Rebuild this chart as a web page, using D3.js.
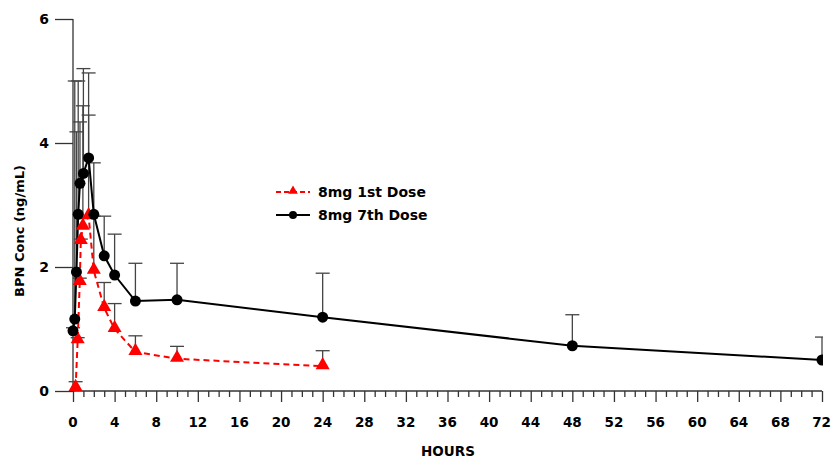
<!DOCTYPE html>
<html>
<head>
<meta charset="utf-8">
<script src="https://cdn.jsdelivr.net/npm/d3@7/dist/d3.min.js"></script>
<style>
  body { margin: 0; background: #fff; overflow: hidden; }
  text { font-family: "DejaVu Sans", Verdana, sans-serif; font-weight: bold; }
</style>
</head>
<body>
<svg id="chart" width="833" height="459"></svg>
<script>
// hours and mean BPN concentration (ng/mL), upper error bar end
const hours7th = [0, 0.17, 0.33, 0.5, 0.67, 1, 1.5, 2, 3, 4, 6, 10, 24, 48, 72];
const conc7th  = [0.97, 1.16, 1.92, 2.85, 3.35, 3.51, 3.76, 2.85, 2.18, 1.87, 1.45, 1.47, 1.19, 0.73, 0.50];
const upper7th = [1.02, 5.0, 4.18, 5.0, 4.34, 5.2, 5.13, 3.68, 2.82, 2.53, 2.06, 2.06, 1.9, 1.23, 0.87];

const hours1st = [0.25, 0.45, 0.65, 0.75, 0.95, 1.5, 2, 3, 4, 6, 10, 24];
const conc1st  = [0.05, 0.82, 1.76, 2.42, 2.65, 2.82, 1.94, 1.34, 1.0, 0.63, 0.52, 0.40];
const upper1st = [0.15, 0.86, 1.82, 2.45, 4.6, 4.45, 2.82, 1.75, 1.41, 0.89, 0.72, 0.65];

const xTicks = d3.range(0, 73, 4);
const yTicks = [0, 2, 4, 6];
const legendLabels = ["8mg 1st Dose", "8mg 7th Dose"];

const COLORS = {
    first: '#ff0000',
    seventh: '#000000',
    errBar: '#444444',
    axis: '#333333'
};

const svg = d3.select('#chart');
const x = d3.scaleLinear().domain([0, 72]).range([73, 822]);
const y = d3.scaleLinear().domain([0, 6]).range([391, 19]);

svg.append('defs').append('clipPath').attr('id', 'plotClip')
    .append('rect').attr('x', 0).attr('y', 0).attr('width', 823).attr('height', 459);

// axes
const xAxis = svg.append('g').attr('transform', 'translate(0,391)');
xAxis.call(d3.axisBottom(x).tickValues(d3.range(0, 73, 1)).tickSize(6).tickFormat(''));
xAxis.call(g => g.selectAll('.tick').filter(d => d % 4 === 0).select('line').attr('y2', 11));
xAxis.selectAll('.tick text').remove();
xAxis.selectAll('line, path').attr('stroke', COLORS.axis).attr('stroke-width', 1.3);
xAxis.select('.domain').attr('d', 'M73,0H822');

// last label sits against the right edge, as in the original
svg.append('g').selectAll('text').data(xTicks).enter().append('text')
    .attr('x', d => d === 72 ? 831 : x(d)).attr('y', 427)
    .attr('text-anchor', d => d === 72 ? 'end' : 'middle')
    .attr('font-size', 13.5).attr('fill', '#000')
    .text(d => d);

const yAxis = svg.append('g').attr('transform', 'translate(73,0)');
yAxis.call(d3.axisLeft(y).tickValues(yTicks).tickSize(18).tickPadding(6).tickFormat(d3.format('d')));
yAxis.selectAll('line, path').attr('stroke', COLORS.axis).attr('stroke-width', 1.3);
yAxis.select('.domain').attr('d', 'M0,19V391');
yAxis.selectAll('text').attr('font-size', 14).attr('fill', '#000').attr('font-family', '"DejaVu Sans", Verdana, sans-serif');

svg.append('text').attr('x', 448).attr('y', 456)
    .attr('text-anchor', 'middle').attr('font-size', 13.5).text('HOURS');
svg.append('text').attr('transform', 'translate(24,231) rotate(-90)')
    .attr('text-anchor', 'middle').attr('font-size', 13).text('BPN Conc (ng/mL)');

const plot = svg.append('g').attr('clip-path', 'url(#plotClip)');

function drawErrors(hours, conc, upper) {
    const g = plot.append('g').attr('stroke', COLORS.errBar).attr('stroke-width', 1.3);
    hours.forEach((h, i) => {
        g.append('line').attr('x1', x(h)).attr('x2', x(h)).attr('y1', y(conc[i])).attr('y2', y(upper[i]));
        g.append('line').attr('x1', x(h) - 7).attr('x2', x(h) + 7).attr('y1', y(upper[i])).attr('y2', y(upper[i]));
    });
}
drawErrors(hours1st, conc1st, upper1st);
drawErrors(hours7th, conc7th, upper7th);

const line = d3.line().x(d => x(d[0])).y(d => y(d[1]));
const pts1st = hours1st.map((h, i) => [h, conc1st[i]]);
const pts7th = hours7th.map((h, i) => [h, conc7th[i]]);

plot.append('path').datum(pts7th).attr('d', line)
    .attr('fill', 'none').attr('stroke', COLORS.seventh).attr('stroke-width', 2);
plot.append('path').datum(pts1st).attr('d', line)
    .attr('fill', 'none').attr('stroke', COLORS.first).attr('stroke-width', 2)
    .attr('stroke-dasharray', '6,4');

const tri = d3.symbol().type(d3.symbolTriangle).size(85);
plot.selectAll('.tri').data(pts1st).enter().append('path')
    .attr('class', 'tri')
    .attr('transform', d => 'translate(' + x(d[0]) + ',' + (y(d[1]) - 1) + ')')
    .attr('d', tri).attr('fill', COLORS.first);
plot.selectAll('.dot').data(pts7th).enter().append('circle')
    .attr('class', 'dot')
    .attr('cx', d => x(d[0])).attr('cy', d => y(d[1])).attr('r', 5.5)
    .attr('fill', COLORS.seventh);

// legend
const legend = svg.append('g');
const legendRows = [
    { label: legendLabels[0], color: COLORS.first, dash: '5,3', mark: 'tri', y: 192 },
    { label: legendLabels[1], color: COLORS.seventh, dash: null, mark: 'dot', y: 215 }
];
legendRows.forEach(r => {
    legend.append('line').attr('x1', 276).attr('x2', 310).attr('y1', r.y).attr('y2', r.y)
        .attr('stroke', r.color).attr('stroke-width', 2).attr('stroke-dasharray', r.dash);
    if (r.mark === 'tri') {
        legend.append('path').attr('transform', 'translate(293,' + (r.y - 1) + ')')
            .attr('d', d3.symbol().type(d3.symbolTriangle).size(40)).attr('fill', r.color);
    } else {
        legend.append('circle').attr('cx', 293).attr('cy', r.y).attr('r', 4).attr('fill', r.color);
    }
    legend.append('text').attr('x', 318).attr('y', r.y + 5).attr('font-size', 14).text(r.label);
});
</script>
</body>
</html>
